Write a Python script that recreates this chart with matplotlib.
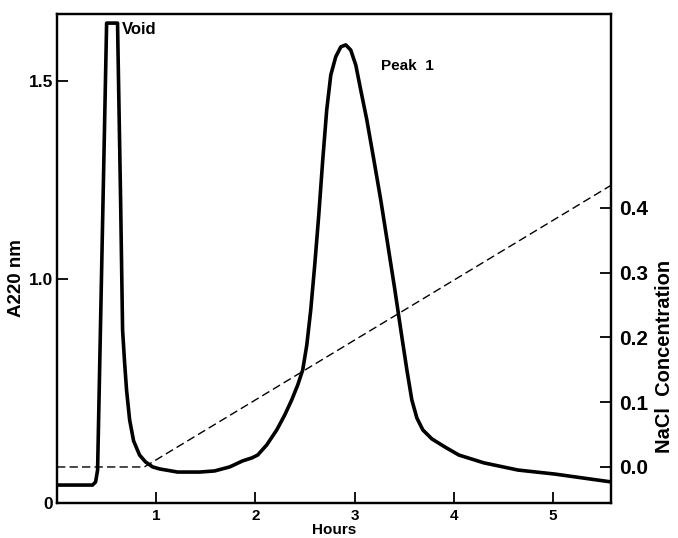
import numpy as np
import matplotlib.pyplot as plt

plt.rcParams['font.family'] = ['Liberation Sans', 'DejaVu Sans']
plt.rcParams['font.weight'] = 'bold'
plt.rcParams['axes.labelweight'] = 'bold'

# absorbance trace
hours = [0.00, 0.358, 0.389, 0.409, 0.50, 0.61, 0.641, 0.661, 0.681, 0.701,
         0.732, 0.772, 0.832, 0.893, 0.964, 1.034, 1.216, 1.438, 1.589, 1.741,
         1.872, 1.963, 2.023, 2.114, 2.215, 2.296, 2.366, 2.427, 2.477, 2.518,
         2.558, 2.598, 2.639, 2.679, 2.719, 2.760, 2.810, 2.861, 2.911, 2.961,
         3.012, 3.062, 3.123, 3.194, 3.264, 3.335, 3.406, 3.466, 3.527, 3.577,
         3.628, 3.688, 3.779, 3.910, 4.051, 4.304, 4.647, 5.020, 5.585]
a220 = [0.080, 0.080, 0.094, 0.147, 1.646, 1.646, 1.199, 0.772, 0.629, 0.504,
        0.371, 0.277, 0.214, 0.183, 0.161, 0.152, 0.138, 0.138, 0.143, 0.161,
        0.188, 0.201, 0.214, 0.259, 0.326, 0.393, 0.460, 0.527, 0.594, 0.705,
        0.862, 1.035, 1.162, 1.301, 1.427, 1.515, 1.561, 1.586, 1.591, 1.578,
        1.540, 1.477, 1.402, 1.301, 1.199, 1.086, 0.951, 0.772, 0.594, 0.460,
        0.379, 0.326, 0.286, 0.250, 0.214, 0.179, 0.147, 0.129, 0.094]

# salt gradient
nacl_hours = [0.0, 0.88, 5.585]
nacl_conc = [0.0, 0.0, 0.435]


# the printed A220 axis is stretched below 1.0
def fwd(y):
    y = np.asarray(y, dtype=float)
    return np.where(y <= 1, y * 0.5657, 0.5657 + (y - 1))


def inv(t):
    t = np.asarray(t, dtype=float)
    return np.where(t <= 0.5657, t / 0.5657, 1 + (t - 0.5657))


fig = plt.figure(figsize=(6.78, 5.38), dpi=100)
ax = fig.add_axes([0.0841, 0.0651, 0.8171, 0.9089])
ax.set_yscale('function', functions=(fwd, inv))
ax.plot(hours, a220, color='black', lw=2.6)
ax.set_xlim(0, 5.585)
ax.set_ylim(0, 1.669)
ax.set_xticks([1, 2, 3, 4, 5])
ax.set_xticklabels(['1', '2', '3', '4', '5'], fontsize=11)
ax.set_yticks([0, 1.0, 1.5])
ax.set_yticklabels(['0', '1.0', '1.5'], fontsize=12.5)
ax.minorticks_off()
ax.tick_params(direction='in', length=8, width=1.3, pad=3)
ax.tick_params(axis='x', pad=4)
for s in ax.spines.values():
    s.set_linewidth(1.6)
ax.set_xlabel('Hours', fontsize=11, labelpad=0)
ax.set_ylabel('A220 nm', fontsize=13.5)
ax.yaxis.set_label_coords(-0.058, 0.46)

ax.text(0.65, 1.629, 'Void', fontsize=12, ha='left', va='center')
ax.text(3.264, 1.538, 'Peak  1', fontsize=11, ha='left', va='center')

ax2 = ax.twinx()
ax2.plot(nacl_hours, nacl_conc, color='black', lw=1.0, dashes=(6, 3))
ax2.set_ylim(-0.0556, 0.6996)
ax2.set_yticks([0.0, 0.1, 0.2, 0.3, 0.4])
ax2.set_yticklabels(['0.0', '0.1', '0.2', '0.3', '0.4'], fontsize=15)
ax2.tick_params(direction='in', length=8, width=1.3, pad=6)
for s in ax2.spines.values():
    s.set_linewidth(1.6)
ax2.set_ylabel('NaCl  Concentration', fontsize=14.5)
ax2.yaxis.set_label_coords(1.08, 0.30)

fig.savefig('out.png', dpi=100)
